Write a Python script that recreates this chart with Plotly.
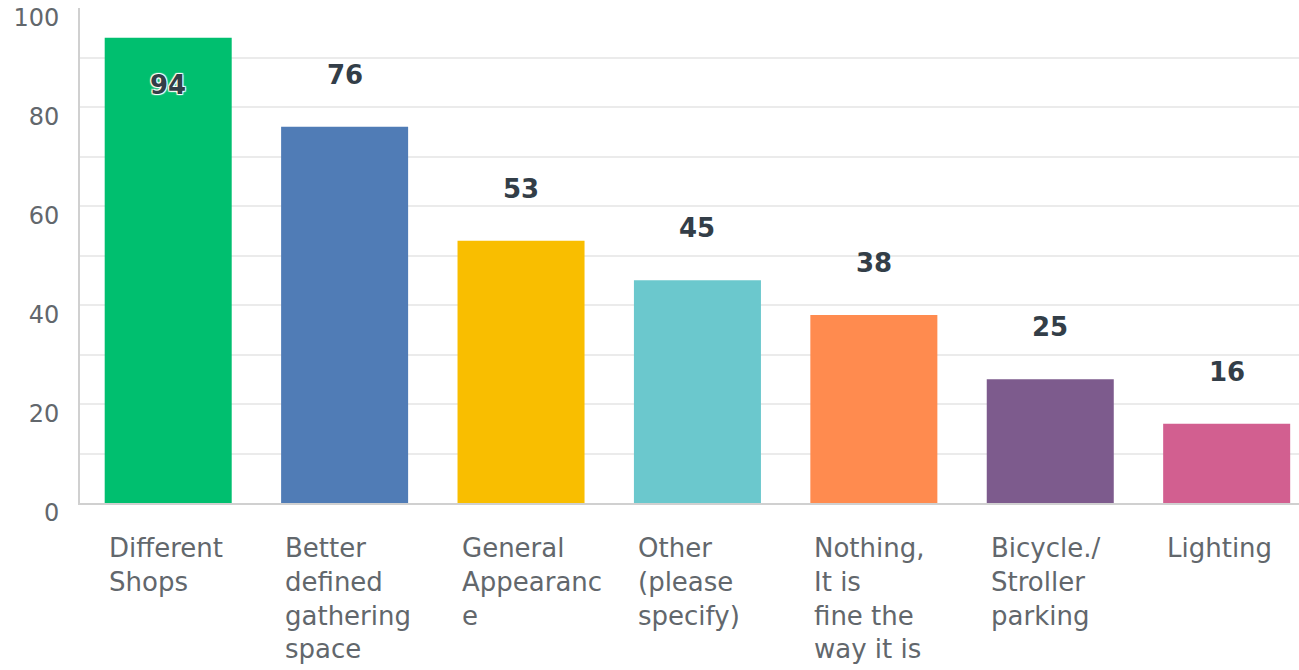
import plotly.graph_objects as go

categories = ["Different Shops", "Better defined gathering space", "General Appearance",
              "Other (please specify)", "Nothing, It is fine the way it is",
              "Bicycle./ Stroller parking", "Lighting"]
wrapped_labels = ["Different<br>Shops", "Better<br>defined<br>gathering<br>space",
                  "General<br>Appearanc<br>e", "Other<br>(please<br>specify)",
                  "Nothing,<br>It is<br>fine the<br>way it is",
                  "Bicycle./<br>Stroller<br>parking", "Lighting"]
values = [94, 76, 53, 45, 38, 25, 16]
colors = ["#00BF6F", "#507CB6", "#F9BE00", "#6BC8CD", "#FF8B4F", "#7D5B8D", "#D25F90"]
y_ticks = [0, 20, 40, 60, 80, 100]

FONT = "'DejaVu Sans', sans-serif"
BAR_W = 0.72

fig = go.Figure()
fig.add_trace(go.Bar(
    x=list(range(len(categories))), y=values, marker=dict(color=colors, line=dict(width=0)),
    width=BAR_W, hoverinfo="skip", showlegend=False,
))

annotations = []
for i, v in enumerate(values):
    inside = v > 88
    annotations.append(dict(
        x=i, y=v, xref="x", yref="y",
        yshift=-47 if inside else 52,
        text=f"<b>{v}</b>", showarrow=False,
        font=dict(family=FONT, size=26, color="#333E48",
                  shadow="1px 1px 1px #fff, -1px -1px 1px #fff, 1px -1px 1px #fff, -1px 1px 1px #fff" if inside else "none"),
        xanchor="center", yanchor="middle",
    ))
    annotations.append(dict(
        x=i - BAR_W / 2, y=0, xref="x", yref="paper",
        xshift=2, yshift=-28,
        text=wrapped_labels[i], showarrow=False, align="left",
        xanchor="left", yanchor="top",
        font=dict(family=FONT, size=26, color="#62676C"),
    ))

fig.update_layout(
    width=1299, height=670,
    margin=dict(l=80, r=0, t=8, b=167, autoexpand=False),
    paper_bgcolor="white", plot_bgcolor="white",
    annotations=annotations,
    xaxis=dict(
        type="linear", range=[-0.5, 6.41], showticklabels=False, showgrid=False,
        zeroline=False, showline=True, linecolor="#D0D0D0", linewidth=2, ticks="",
    ),
    yaxis=dict(
        range=[0, 100], tickvals=y_ticks, showgrid=True, gridcolor="#EBEBEB", gridwidth=2,
        minor=dict(dtick=10, tick0=0, showgrid=True, gridcolor="#EBEBEB", gridwidth=2),
        zeroline=False, showline=True, linecolor="#D0D0D0", linewidth=2,
        ticks="", ticklabelstandoff=14, ticklabelshift=10, ticklabeloverflow="allow",
        tickfont=dict(family=FONT, size=24, color="#62676C"),
    ),
)

fig.write_html("out.html", config={"displayModeBar": False},
               post_script="document.body.style.margin='0';")
